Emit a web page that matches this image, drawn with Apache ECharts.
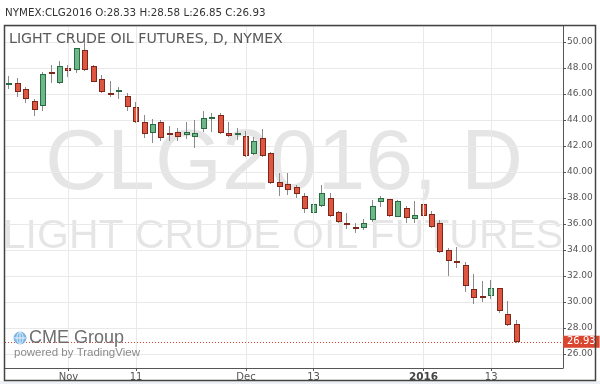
<!DOCTYPE html>
<html>
<head>
<meta charset="utf-8">
<script src="https://cdn.jsdelivr.net/npm/echarts@6/dist/echarts.min.js"></script>
<style>
html,body{margin:0;padding:0;background:#fff;}
#c{width:600px;height:384px;}
</style>
</head>
<body>
<div id="c"></div>
<script>
// ---- data ----
const symbol = 'NYMEX:CLG2016';
const chartTitle = 'LIGHT CRUDE OIL FUTURES, D, NYMEX';
const opens  = [46.70,46.82,46.36,45.46,45.08,47.69,46.85,48.02,47.85,49.38,48.18,47.13,46.10,46.13,45.85,45.02,43.82,43.02,43.82,42.98,43.10,42.85,42.67,43.28,44.05,44.38,42.98,42.87,42.79,41.38,42.64,41.48,39.21,39.06,38.82,38.15,36.87,37.41,37.98,36.90,36.05,35.75,35.67,36.31,37.72,37.90,36.56,37.25,36.36,37.51,36.77,36.05,34.00,33.18,32.85,31.00,30.46,30.49,31.05,29.08,28.33];
const closes = [46.82,46.13,45.59,44.77,47.54,47.54,48.15,47.75,49.52,47.85,46.95,46.18,45.98,46.30,45.00,43.87,42.90,43.67,42.59,42.92,42.72,43.10,43.02,44.18,44.26,42.98,42.79,43.02,41.25,42.38,41.25,39.18,38.82,38.62,38.31,37.13,37.51,38.41,36.64,36.13,35.95,35.67,36.05,37.38,37.98,36.64,37.77,36.44,36.67,36.64,35.79,33.87,33.15,33.02,31.25,30.28,30.36,31.05,29.33,28.23,26.93];
const lows   = [46.38,45.80,45.28,44.31,44.69,46.82,46.77,47.28,47.60,47.80,46.90,46.10,45.77,45.60,44.70,43.75,42.59,42.20,42.38,42.38,42.41,42.54,41.82,43.05,43.10,42.90,42.72,42.46,41.18,41.30,41.18,39.05,38.15,38.23,37.98,36.82,36.05,37.33,36.56,36.05,35.59,35.28,35.54,36.18,37.28,36.51,36.51,36.10,36.05,36.31,35.67,33.75,32.02,32.59,30.79,29.82,30.02,30.23,29.13,28.18,26.85];
const highs  = [47.38,47.20,46.56,45.59,47.72,48.23,48.56,48.23,49.55,50.33,48.23,47.46,47.00,46.50,46.10,45.36,44.38,44.08,44.00,43.54,43.41,43.87,44.00,44.72,44.51,44.51,43.82,43.36,43.15,42.72,43.28,41.56,39.95,39.90,39.00,38.41,37.90,39.00,38.41,37.02,36.82,36.05,36.36,37.85,38.15,37.95,37.85,37.38,37.77,38.31,37.00,36.31,34.18,34.25,33.10,32.13,31.62,31.69,31.10,30.08,28.58];
const tickIndex = [7, 15, 28, 36, 49, 57];
const tickText  = ['Nov', '11', 'Dec', '13', '2016', '13'];
const emptySlots = 5; // blank space to the right of the last bar

const categories = [];
for (let i = 0; i < opens.length + emptySlots; i++) categories.push(String(i));
const ohlc = opens.map((o, i) => [i, o, closes[i], lows[i], highs[i]]);
const last = ohlc[ohlc.length - 1];
const header = symbol + ' O:' + last[1].toFixed(2) + ' H:' + last[4].toFixed(2) + ' L:' + last[3].toFixed(2) + ' C:' + last[2].toFixed(2);

const RED = '#df5640', RED_B = '#7e2619', GREEN = '#6cb888', GREEN_B = '#2c6a44', WICK = '#8a8a8a';

const chart = echarts.init(document.getElementById('c'), null, {renderer: 'canvas'});
chart.setOption({
  animation: false,
  backgroundColor: '#ffffff',
  grid: {left: 5, right: 37, top: 26, bottom: 16, containLabel: false},
  xAxis: {
    type: 'category', data: categories, boundaryGap: true,
    axisLine: {show: true, lineStyle: {color: '#555', width: 1}},
    axisTick: {show: true, alignWithLabel: true, length: 3, lineStyle: {color: '#555'},
      interval: (i) => tickIndex.indexOf(i) >= 0},
    axisLabel: {
      interval: (i) => tickIndex.indexOf(i) >= 0,
      formatter: (v, i) => { const k = tickIndex.indexOf(Number(v)); const t = k >= 0 ? tickText[k] : ''; return /^\d{4}$/.test(t) ? '{b|' + t + '}' : t; },
      color: '#555', fontSize: 10, fontFamily: 'DejaVu Sans', margin: 4,
      rich: {b: {fontWeight: 'bold', color: '#444', fontSize: 10.5, fontFamily: 'DejaVu Sans'}}
    },
    splitLine: {show: false}
  },
  yAxis: {
    type: 'value', position: 'right', scale: true,
    min: 24.92, max: 51.23, splitNumber: 13, minInterval: 2, maxInterval: 2,
    axisLine: {show: true, lineStyle: {color: '#555', width: 1}},
    axisTick: {show: true, length: 3, lineStyle: {color: '#555'}},
    axisLabel: {formatter: (v) => v.toFixed(2), color: '#555', fontSize: 9, fontFamily: 'DejaVu Sans', margin: 4,
      showMinLabel: false, showMaxLabel: false},
    splitLine: {show: true, lineStyle: {color: '#e9e9e9', width: 1}}
  },
  graphic: [
    {type: 'rect', z: -10, silent: true, shape: {x: 0, y: 381, width: 600, height: 3}, style: {fill: '#edf1f5'}},
    {type: 'text', z: 0, silent: true, style: {text: 'CLG2016, D', fill: 'rgba(0,0,0,0.10)', font: '86px "Liberation Sans"', textAlign: 'center', textVerticalAlign: 'middle'}, x: 284, y: 165},
    {type: 'text', z: 0, silent: true, style: {text: 'LIGHT CRUDE OIL FUTURES', fill: 'rgba(0,0,0,0.10)', font: '41px "Liberation Sans"', textAlign: 'center', textVerticalAlign: 'middle'}, x: 283, y: 237},
    {type: 'rect', z: 20, silent: true, shape: {x: 4.5, y: 25.5, width: 591, height: 355}, style: {fill: 'none', stroke: '#444', lineWidth: 1.5}},
    {type: 'text', z: 20, silent: true, style: {text: header, fill: '#333', font: '10.3px "DejaVu Sans"', textVerticalAlign: 'middle'}, x: 5, y: 13},
    {type: 'text', z: 20, silent: true, style: {text: chartTitle, fill: '#595959', font: '14.2px "DejaVu Sans"', textVerticalAlign: 'middle'}, x: 9, y: 39},
    {type: 'circle', z: 20, silent: true, shape: {cx: 20, cy: 338, r: 6}, style: {fill: '#7fb8e6', stroke: '#5fa2d8', lineWidth: 0.8}},
    {type: 'line', z: 21, silent: true, shape: {x1: 14, y1: 338, x2: 26, y2: 338}, style: {stroke: '#fff', lineWidth: 0.8}},
    {type: 'line', z: 21, silent: true, shape: {x1: 20, y1: 332, x2: 20, y2: 344}, style: {stroke: '#fff', lineWidth: 0.8}},
    {type: 'ellipse', z: 21, silent: true, shape: {cx: 20, cy: 338, rx: 3, ry: 6}, style: {fill: 'none', stroke: '#fff', lineWidth: 0.8}},
    {type: 'text', z: 20, silent: true, style: {text: 'CME Group', fill: '#6f6f6f', font: '18px "Liberation Sans"', textVerticalAlign: 'middle'}, x: 29, y: 338},
    {type: 'text', z: 20, silent: true, style: {text: 'powered by TradingView', fill: '#8a8a8a', font: '11.5px "Liberation Sans"', textVerticalAlign: 'middle'}, x: 14, y: 353}
  ],
  series: [
    {
      type: 'line', data: [], z: 1, silent: true,
      markLine: {silent: true, symbol: 'none', animation: false, label: {show: false},
        lineStyle: {color: '#e9e9e9', type: 'solid', width: 1},
        data: tickIndex.map(i => ({xAxis: i}))}
    },
    {
      type: 'custom', z: 2,
      data: ohlc,
      encode: {x: 0, y: [1, 2, 3, 4]},
      renderItem: function (params, api) {
        const x = api.value(0);
        const o = api.coord([x, api.value(1)]);
        const c = api.coord([x, api.value(2)]);
        const l = api.coord([x, api.value(3)]);
        const h = api.coord([x, api.value(4)]);
        const up = api.value(2) >= api.value(1);
        const p = Math.round(o[0]);
        let top = Math.round(Math.min(o[1], c[1]));
        let bot = Math.round(Math.max(o[1], c[1]));
        if (bot - top < 2) bot = top + 2;
        const kids = [
          {type: 'rect', shape: {x: p - 1, y: Math.round(h[1]), width: 1, height: Math.max(1, Math.round(l[1]) - Math.round(h[1]))}, style: {fill: WICK}},
          {type: 'rect', shape: {x: p - 3, y: top, width: 6, height: bot - top}, style: {fill: up ? GREEN_B : RED_B}}
        ];
        if (bot - top > 2) {
          kids.push({type: 'rect', shape: {x: p - 2, y: top + 1, width: 4, height: bot - top - 2}, style: {fill: up ? GREEN : RED}});
        }
        return {type: 'group', children: kids};
      }
    },
    {
      type: 'line', data: [], z: 3, silent: true,
      markLine: {silent: true, symbol: 'none', animation: false,
        lineStyle: {color: '#d9452f', type: [1, 2], width: 1},
        label: {show: true, position: 'end', distance: 0, formatter: (p) => Number(p.value).toFixed(2),
          backgroundColor: '#d9452f', color: '#fff', fontSize: 10, fontFamily: 'DejaVu Sans', padding: [1, 4, 1, 4]},
        data: [{yAxis: closes[closes.length - 1]}]}
    }
  ]
});
</script>
</body>
</html>
